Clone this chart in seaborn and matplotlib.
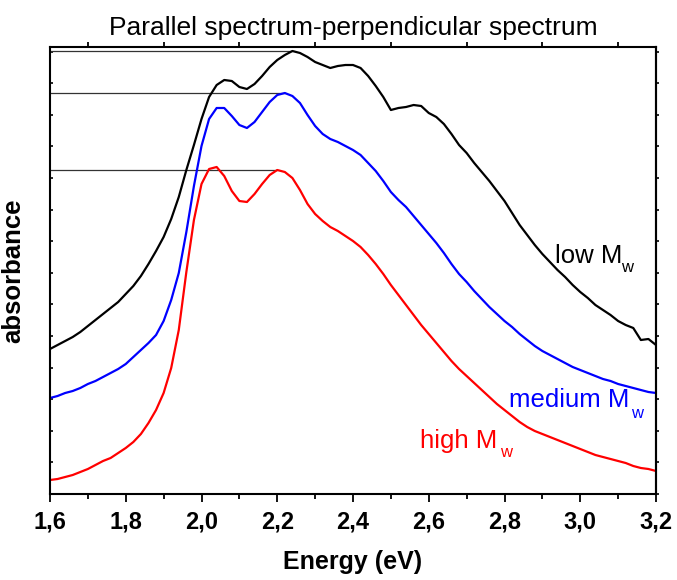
import numpy as np
import matplotlib
matplotlib.use("Agg")
import matplotlib.pyplot as plt
from matplotlib.ticker import MultipleLocator, FuncFormatter
import seaborn as sns

# Spectra (arbitrary absorbance units, offset curves)
energy = np.round(np.arange(1.60, 3.2001, 0.02), 2)

low_mw = [1.45, 1.49, 1.53, 1.57, 1.62, 1.68, 1.74, 1.80, 1.86, 1.92,
          2.00, 2.08, 2.18, 2.30, 2.43, 2.57, 2.75, 2.97, 3.24, 3.49,
          3.75, 3.97, 4.09, 4.14, 4.13, 4.07, 4.05, 4.10, 4.18, 4.27,
          4.34, 4.39, 4.43, 4.41, 4.37, 4.32, 4.29, 4.26, 4.28, 4.29,
          4.29, 4.26, 4.18, 4.08, 3.97, 3.84, 3.86, 3.87, 3.89, 3.88,
          3.81, 3.77, 3.70, 3.60, 3.49, 3.41, 3.31, 3.22, 3.13, 3.03,
          2.93, 2.81, 2.69, 2.59, 2.49, 2.40, 2.32, 2.24, 2.17, 2.09,
          2.02, 1.96, 1.89, 1.84, 1.79, 1.73, 1.69, 1.66, 1.54, 1.55,
          1.49]

medium_mw = [0.96, 0.98, 1.01, 1.03, 1.06, 1.10, 1.13, 1.17, 1.21, 1.25,
             1.30, 1.37, 1.44, 1.51, 1.59, 1.73, 1.94, 2.21, 2.62, 3.08,
             3.48, 3.75, 3.86, 3.86, 3.78, 3.69, 3.66, 3.72, 3.82, 3.92,
             3.99, 4.01, 3.98, 3.91, 3.79, 3.68, 3.60, 3.55, 3.52, 3.48,
             3.44, 3.39, 3.31, 3.23, 3.13, 3.02, 2.94, 2.87, 2.78, 2.69,
             2.60, 2.51, 2.41, 2.30, 2.20, 2.12, 2.03, 1.95, 1.87, 1.80,
             1.73, 1.67, 1.60, 1.54, 1.48, 1.43, 1.39, 1.35, 1.31, 1.27,
             1.24, 1.21, 1.18, 1.15, 1.13, 1.10, 1.08, 1.06, 1.04, 1.02,
             1.01]

high_mw = [0.14, 0.15, 0.17, 0.19, 0.22, 0.25, 0.29, 0.33, 0.36, 0.41,
           0.46, 0.52, 0.60, 0.71, 0.84, 1.01, 1.26, 1.64, 2.22, 2.74,
           3.10, 3.25, 3.27, 3.18, 3.03, 2.93, 2.92, 3.00, 3.10, 3.19,
           3.24, 3.22, 3.16, 3.04, 2.90, 2.80, 2.73, 2.67, 2.63, 2.58,
           2.53, 2.47, 2.39, 2.30, 2.20, 2.09, 1.99, 1.89, 1.79, 1.69,
           1.60, 1.51, 1.42, 1.33, 1.25, 1.18, 1.11, 1.04, 0.97, 0.90,
           0.84, 0.78, 0.72, 0.67, 0.63, 0.60, 0.57, 0.54, 0.51, 0.48,
           0.45, 0.42, 0.39, 0.37, 0.35, 0.33, 0.31, 0.28, 0.26, 0.25,
           0.23]

curves = [("low", low_mw, "black"),
          ("medium", medium_mw, "#0000ff"),
          ("high", high_mw, "#ff0000")]

# label text, anchor (energy, absorbance), subscript anchor, colour
labels = [("low M", 2.933, 2.31, 3.107, 2.22, "black"),
          ("medium M", 2.812, 0.87, 3.134, 0.76, "#0000ff"),
          ("high M", 2.577, 0.46, 2.787, 0.37, "#ff0000")]

sns.set_style("ticks")
plt.rcParams["font.family"] = ["Liberation Sans", "DejaVu Sans"]
plt.rcParams["text.color"] = "black"
plt.rcParams["axes.labelcolor"] = "black"
plt.rcParams["xtick.color"] = "black"
plt.rcParams["ytick.color"] = "black"

fig = plt.figure(figsize=(6.77, 5.80), dpi=100)
ax = fig.add_axes([50 / 677, 1 - 494 / 580, 606 / 677, 447 / 580])

for name, vals, col in curves:
    sns.lineplot(x=energy, y=vals, color=col, lw=1.6, ax=ax, legend=False)
    # horizontal marker line to the second (main) peak
    v = np.array(vals)
    mask = energy > 2.15
    i = np.argmax(np.where(mask, v, -1))
    ax.plot([1.6, energy[i]], [v[i], v[i]], color="#333333", lw=0.9, zorder=1)

for txt, x, y, xs, ys, col in labels:
    ax.text(x, y, txt, color=col, fontsize=18.5, ha="left", va="baseline")
    ax.text(xs, ys, "w", color=col, fontsize=12, ha="left", va="baseline")

ax.set_xlim(1.6, 3.2)
ax.set_ylim(0, 4.47)
ax.xaxis.set_major_locator(MultipleLocator(0.2))
ax.xaxis.set_minor_locator(MultipleLocator(0.1))
ax.xaxis.set_major_formatter(FuncFormatter(lambda v, p: f"{v:.1f}".replace(".", ",")))
ax.yaxis.set_major_locator(MultipleLocator(0.316))
ax.set_yticklabels([])

for s in ax.spines.values():
    s.set_linewidth(1.5)
    s.set_color("black")

ax.tick_params(axis="x", which="major", direction="out", length=6, width=1.3,
               labelsize=17, pad=6, top=False)
ax.tick_params(axis="x", which="minor", direction="out", length=3.8, width=1.3,
               top=True, labeltop=False)
ax.tick_params(axis="y", which="major", direction="in", length=2.5, width=1.2,
               left=True, right=False)
for lab in ax.get_xticklabels():
    lab.set_fontweight("bold")

# right-hand ticks point outwards
sec = ax.secondary_yaxis("right")
sec.yaxis.set_major_locator(MultipleLocator(0.316))
sec.tick_params(direction="out", length=2.5, width=1.2, labelright=False)
sec.spines["right"].set_linewidth(1.5)

ax.set_xlabel("Energy (eV)", fontsize=18, fontweight="bold", labelpad=12)
ax.set_ylabel("absorbance", fontsize=18.5, fontweight="bold", labelpad=14)
ax.set_title("Parallel spectrum-perpendicular spectrum", fontsize=19, pad=9)

fig.savefig("out.png", dpi=100)
